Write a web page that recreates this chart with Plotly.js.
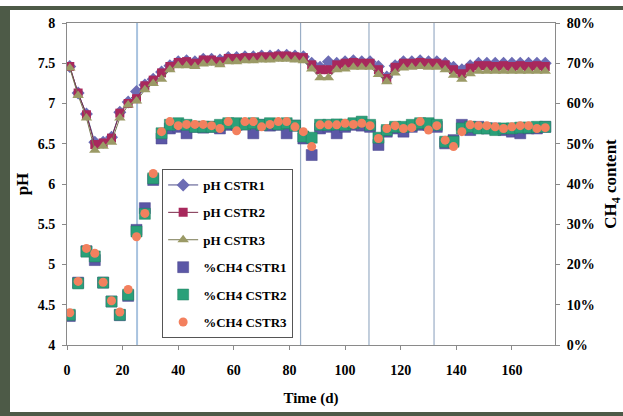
<!DOCTYPE html>
<html>
<head>
<meta charset="utf-8">
<script src="https://cdn.plot.ly/plotly-3.0.1.min.js"></script>
<style>
html,body{margin:0;padding:0;background:#fff;}
#wrap{position:relative;width:623px;height:416px;overflow:hidden;}
#chart{position:absolute;left:0;top:0;width:623px;height:416px;}
.band{position:absolute;background:#4d5a47;pointer-events:none;}
</style>
</head>
<body>
<div id="wrap">
<div id="chart"></div>
<div class="band" style="left:0;top:6px;width:623px;height:4px;"></div>
<div class="band" style="left:0;top:6px;width:10px;height:410px;"></div>
<div class="band" style="left:0;top:412px;width:623px;height:4px;"></div>
</div>
<script>
const days = [1,4,7,10,13,16,19,22,25,28,31,34,37,40,43,46,49,52,55,58,61,64,67,70,73,76,79,82,85,88,91,94,97,100,103,106,109,112,115,118,121,124,127,130,133,136,139,142,145,148,151,154,157,160,163,166,169,172];

const phCSTR1 = [7.46,7.13,6.87,6.52,6.52,6.58,6.89,7.02,7.15,7.23,7.30,7.39,7.47,7.52,7.53,7.52,7.55,7.55,7.54,7.57,7.57,7.58,7.58,7.59,7.59,7.60,7.60,7.59,7.58,7.50,7.45,7.52,7.50,7.52,7.53,7.52,7.52,7.46,7.33,7.47,7.52,7.52,7.53,7.52,7.52,7.50,7.45,7.42,7.47,7.50,7.50,7.50,7.50,7.50,7.50,7.50,7.50,7.50];
const phCSTR2 = [7.46,7.13,6.86,6.49,6.51,6.57,6.88,7.00,7.06,7.22,7.29,7.38,7.46,7.51,7.52,7.50,7.54,7.54,7.52,7.56,7.56,7.57,7.57,7.58,7.58,7.59,7.59,7.58,7.57,7.48,7.42,7.42,7.48,7.50,7.51,7.50,7.50,7.42,7.31,7.45,7.50,7.50,7.51,7.50,7.50,7.48,7.42,7.37,7.44,7.47,7.47,7.46,7.47,7.46,7.47,7.46,7.47,7.46];
const phCSTR3 = [7.44,7.10,6.82,6.42,6.47,6.52,6.82,6.98,7.03,7.17,7.25,7.30,7.42,7.47,7.47,7.46,7.49,7.50,7.48,7.52,7.52,7.53,7.53,7.54,7.54,7.55,7.55,7.54,7.53,7.43,7.32,7.32,7.42,7.43,7.45,7.45,7.45,7.36,7.27,7.38,7.44,7.45,7.46,7.45,7.45,7.42,7.35,7.30,7.37,7.40,7.40,7.40,7.40,7.40,7.40,7.40,7.40,7.40];

const ch4CSTR1 = [7.2,15.5,23.3,21.1,15.5,10.8,7.4,12.2,28.6,34.0,41.0,51.3,53.8,54.2,52.6,54.2,54.0,54.2,53.8,54.7,54.7,54.8,52.6,54.7,54.5,54.7,52.6,54.5,51.3,47.2,53.8,54.2,52.6,54.2,54.7,54.5,54.2,49.7,53.0,53.8,53.0,54.2,54.7,54.7,54.2,50.1,50.9,54.7,53.4,54.2,53.8,53.8,53.4,53.0,52.6,53.8,53.8,54.2];
const ch4CSTR2 = [7.5,15.3,23.2,22.0,15.5,10.8,7.5,12.5,28.2,32.6,41.4,52.6,54.7,55.1,54.7,54.2,54.2,54.2,54.7,55.1,55.1,54.8,55.1,54.7,55.1,54.8,55.1,54.5,51.8,51.5,54.7,54.7,54.8,54.7,55.1,55.5,54.7,51.5,53.4,54.2,54.2,54.7,55.1,55.1,54.7,50.5,50.5,53.8,54.2,53.8,53.8,53.4,53.8,53.8,54.0,54.0,54.2,54.2];
const ch4CSTR3 = [8.0,15.8,24.0,22.8,15.6,11.0,8.2,13.8,26.9,32.7,42.6,53.0,55.5,54.5,54.8,54.8,54.8,54.5,53.8,55.5,53.2,55.5,55.5,54.2,54.8,55.5,55.5,54.2,53.0,49.3,54.7,54.7,54.7,55.1,54.8,55.1,54.5,51.3,53.8,54.5,53.8,54.0,55.5,53.4,54.5,50.9,49.3,53.0,54.7,54.5,54.5,54.2,53.8,54.2,54.5,54.5,53.8,54.0];

const phaseDays = [25.2, 84, 108.6, 132];

const serif = 'Liberation Serif, Times New Roman, serif';
const traces = [
  {x: days, y: phCSTR1, name: 'pH CSTR1', legendgroup: 'a', mode: 'lines+markers', yaxis: 'y',
   line: {color: '#4b4b86', width: 1}, marker: {symbol: 'diamond', size: 10, color: '#6c6cb4'}},
  {x: days, y: phCSTR2, name: 'pH CSTR2', legendgroup: 'b', mode: 'lines+markers', yaxis: 'y',
   line: {color: '#7a2a4a', width: 1}, marker: {symbol: 'square', size: 9, color: '#a8285c'}},
  {x: days, y: phCSTR3, name: 'pH CSTR3', legendgroup: 'c', mode: 'lines+markers', yaxis: 'y',
   line: {color: '#777750', width: 1}, marker: {symbol: 'triangle-up', size: 10, color: '#9b9a66'}},
  {x: days, y: ch4CSTR1, name: '%CH4 CSTR1', legendgroup: 'd', mode: 'markers', yaxis: 'y2',
   marker: {symbol: 'square', size: 11, color: '#5b57a6', line: {color: '#46438a', width: 0.5}}},
  {x: days, y: ch4CSTR2, name: '%CH4 CSTR2', legendgroup: 'e', mode: 'markers', yaxis: 'y2',
   marker: {symbol: 'square', size: 11, color: '#2aa079', line: {color: '#1e7e5e', width: 0.5}}},
  {x: days, y: ch4CSTR3, name: '%CH4 CSTR3', legendgroup: 'f', mode: 'markers', yaxis: 'y2',
   marker: {symbol: 'circle', size: 9, color: '#f3805e'}}
];

const shapes = phaseDays.map((d, i) => ({
  type: 'line', xref: 'x', yref: 'paper', x0: d, x1: d, y0: 0, y1: 1, layer: 'below',
  line: {color: i === 0 ? '#a9c3df' : '#9aaec6', width: i === 0 ? 2 : 1.2}
}));

const tickFont = {family: serif, size: 14, color: '#000', weight: 'bold'};
const layout = {
  width: 623, height: 416,
  margin: {l: 67, r: 68, t: 23, b: 71},
  paper_bgcolor: '#fff', plot_bgcolor: '#fff',
  font: {family: serif, color: '#000'},
  showlegend: true,
  shapes: shapes,
  xaxis: {
    range: [0, 175.5], dtick: 20, tick0: 0, showgrid: false, zeroline: false,
    showline: true, linecolor: '#8a8a8a', linewidth: 1, mirror: true,
    ticks: 'outside', ticklen: 4, tickcolor: '#8a8a8a', tickfont: tickFont, ticklabelstandoff: 8,
    title: {text: '<b>Time (d)</b>', font: {family: serif, size: 15, color: '#000'}, standoff: 15}
  },
  yaxis: {
    range: [4, 8], dtick: 0.5, tick0: 4, showgrid: false, zeroline: false,
    showline: true, linecolor: '#8a8a8a', linewidth: 1,
    ticks: 'outside', ticklen: 4, tickcolor: '#8a8a8a', tickfont: tickFont, ticklabelstandoff: 4,
    title: {text: '<b>pH</b>', font: {family: serif, size: 17, color: '#000'}, standoff: 4}
  },
  yaxis2: {
    range: [0, 80], dtick: 10, tick0: 0, overlaying: 'y', side: 'right', ticksuffix: '%',
    showgrid: false, zeroline: false, showline: true, linecolor: '#8a8a8a', linewidth: 1,
    ticks: 'outside', ticklen: 4, tickcolor: '#8a8a8a', tickfont: tickFont, ticklabelstandoff: 4,
    title: {text: '<b>CH<sub>4</sub> content</b>', font: {family: serif, size: 17, color: '#000'}, standoff: 11}
  },
  legend: {
    x: 0.195, y: 0.5466, xanchor: 'left', yanchor: 'top',
    bgcolor: '#fff', bordercolor: '#555', borderwidth: 1,
    font: {family: serif, size: 13, color: '#000', weight: 'bold'},
    traceorder: 'grouped', tracegroupgap: 7.5
  }
};

Plotly.newPlot('chart', traces, layout, {displayModeBar: false, staticPlot: true});
</script>
</body>
</html>
